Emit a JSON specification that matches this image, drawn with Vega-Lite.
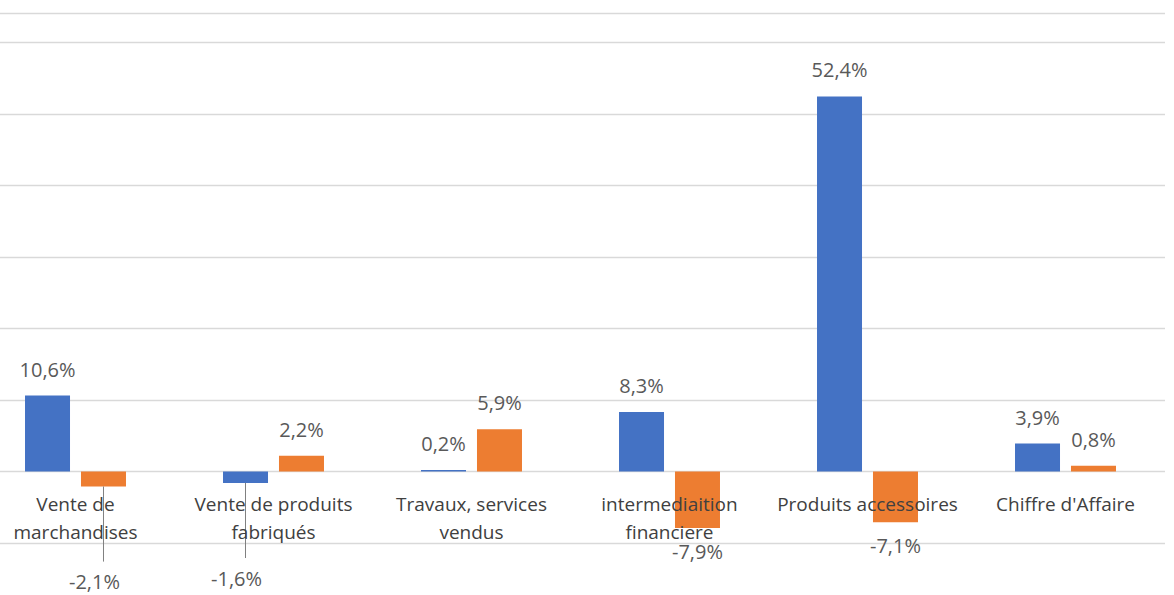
{
  "$schema": "https://vega.github.io/schema/vega-lite/v6.json",
  "width": 1155,
  "height": 530,
  "autosize": {"type": "none"},
  "padding": {"left": 9, "top": 13, "right": 10, "bottom": 52},
  "background": "white",
  "config": {"view": {"stroke": null}, "font": "Open Sans"},
  "data": {
    "values": [
      {"categorie": "Vente de marchandises", "serie": "Série 1", "valeur": 10.6},
      {"categorie": "Vente de marchandises", "serie": "Série 2", "valeur": -2.1},
      {"categorie": "Vente de produits fabriqués", "serie": "Série 1", "valeur": -1.6},
      {"categorie": "Vente de produits fabriqués", "serie": "Série 2", "valeur": 2.2},
      {"categorie": "Travaux, services vendus", "serie": "Série 1", "valeur": 0.2},
      {"categorie": "Travaux, services vendus", "serie": "Série 2", "valeur": 5.9},
      {"categorie": "intermediaition financiere", "serie": "Série 1", "valeur": 8.3},
      {"categorie": "intermediaition financiere", "serie": "Série 2", "valeur": -7.9},
      {"categorie": "Produits accessoires", "serie": "Série 1", "valeur": 52.4},
      {"categorie": "Produits accessoires", "serie": "Série 2", "valeur": -7.1},
      {"categorie": "Chiffre d'Affaire", "serie": "Série 1", "valeur": 3.9},
      {"categorie": "Chiffre d'Affaire", "serie": "Série 2", "valeur": 0.8}
    ]
  },
  "transform": [
    {"calculate": "replace(replace(format(datum.valeur, '.1f'), '.', ','), '\u2212', '-') + '%'", "as": "etiquette"},
    {"calculate": "datum.valeur - 10.5", "as": "fin"}
  ],
  "encoding": {
    "x": {
      "field": "categorie",
      "type": "nominal",
      "sort": null,
      "scale": {"range": [-32.5, 1155.5], "paddingInner": 0.49, "paddingOuter": 0.245},
      "axis": {
        "title": null,
        "orient": "bottom",
        "offset": -72,
        "domain": false,
        "ticks": false,
        "labelAngle": 0,
        "labelPadding": 24,
        "labelFontSize": 19,
        "labelLineHeight": 28,
        "labelColor": "#404040",
        "labelFont": "Open Sans",
        "labelLimit": 400,
        "zindex": 1,
        "labelExpr": "datum.label == 'Vente de marchandises' ? ['Vente de', 'marchandises'] : datum.label == 'Vente de produits fabriqués' ? ['Vente de produits', 'fabriqués'] : datum.label == 'Travaux, services vendus' ? ['Travaux, services', 'vendus'] : datum.label == 'intermediaition financiere' ? ['intermediaition', 'financiere'] : datum.label"
      }
    },
    "xOffset": {"field": "serie", "type": "nominal", "scale": {"paddingInner": 0.196, "paddingOuter": 0}},
    "y": {
      "field": "valeur",
      "type": "quantitative",
      "scale": {"domain": [-10, 64.06], "nice": false, "zero": false},
      "axis": {
        "title": null,
        "values": [-10, 0, 10, 20, 30, 40, 50, 60, 64.06],
        "grid": true,
        "gridColor": "#d9d9d9",
        "gridWidth": 1.5,
        "labels": false,
        "ticks": false,
        "domain": false
      }
    }
  },
  "layer": [
    {
      "mark": {"type": "bar"},
      "encoding": {
        "color": {"field": "serie", "type": "nominal", "scale": {"range": ["#4472C4", "#ED7D31"]}, "legend": null}
      }
    },
    {
      "transform": [{"filter": "datum.valeur >= 0"}],
      "mark": {"type": "text", "dy": -25, "fontSize": 20, "color": "#595959", "baseline": "middle"},
      "encoding": {"text": {"field": "etiquette"}}
    },
    {
      "transform": [{"filter": "datum.valeur < -5"}],
      "mark": {"type": "text", "dy": 25, "fontSize": 20, "color": "#595959", "baseline": "middle"},
      "encoding": {"text": {"field": "etiquette"}}
    },
    {
      "transform": [{"filter": "datum.valeur < 0 && datum.valeur >= -5"}],
      "mark": {"type": "text", "dy": 97, "dx": -9, "fontSize": 20, "color": "#595959", "baseline": "middle"},
      "encoding": {"text": {"field": "etiquette"}}
    },
    {
      "transform": [{"filter": "datum.valeur < 0 && datum.valeur >= -5"}],
      "mark": {"type": "rule", "color": "#808080", "strokeWidth": 1},
      "encoding": {"y2": {"field": "fin"}}
    }
  ]
}
